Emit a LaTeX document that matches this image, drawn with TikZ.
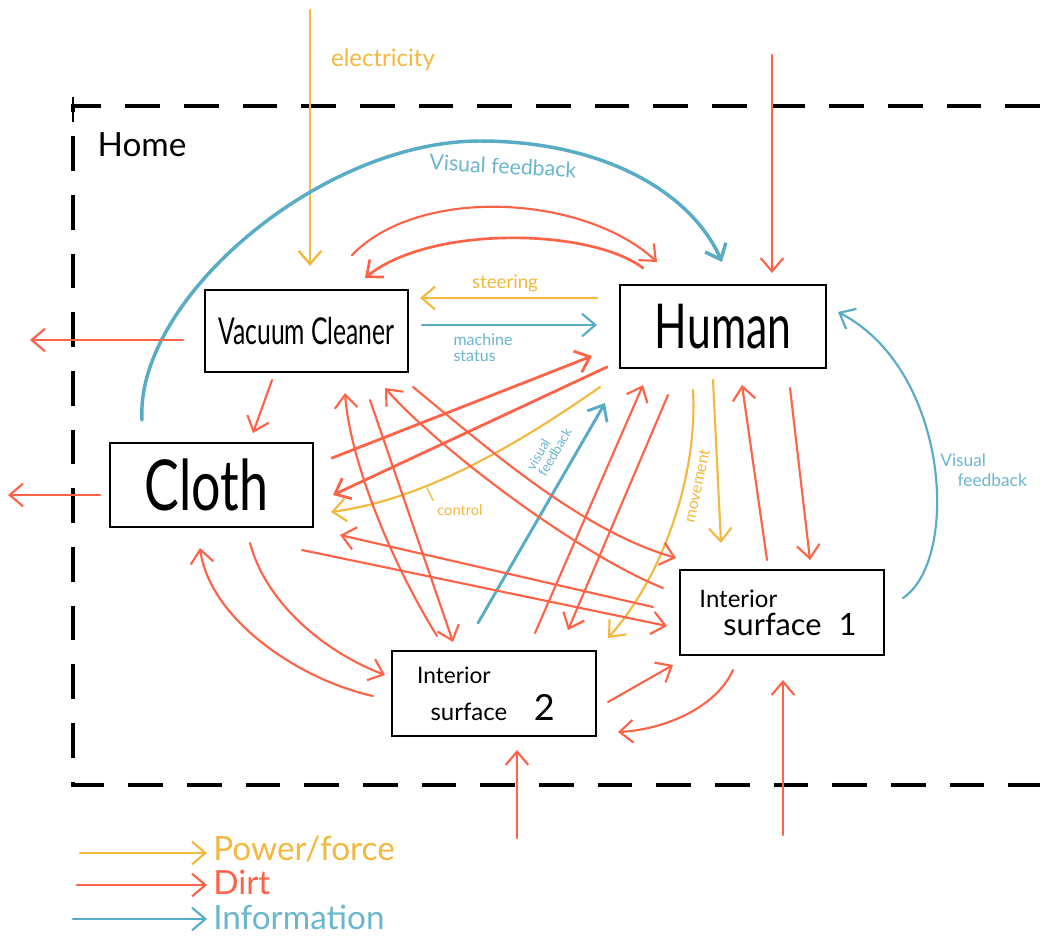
\documentclass[tikz,border=0pt]{standalone}
\usepackage{fontspec}
\setmainfont{Lato}
\usetikzlibrary{arrows.meta,calc}
\definecolor{dirt}{RGB}{255,99,71}
\definecolor{power}{RGB}{243,184,62}
\definecolor{info}{RGB}{88,172,198}
\definecolor{infotext}{RGB}{105,182,206}
\begin{document}
\begin{tikzpicture}[x=0.75pt,y=-0.75pt,
  box/.style={draw=black, line width=2pt, inner sep=0pt, align=center},
  flow/.style={line width=1.6pt, line cap=round, -{Straight Barb[length=10pt,width=17pt]}},
  dirtarrow/.style={flow, draw=dirt},
  powerarrow/.style={flow, draw=power},
  infoarrow/.style={flow, draw=info},
  lbl/.style={inner sep=0pt},
  homeline/.style={line width=2.3pt, dash pattern=on 26pt off 18pt}
]
\useasboundingbox[fill=white] (0,0) rectangle (1040,940);

% home boundary
\draw[homeline] (1040,106) -- (73,106) -- (73,785) -- (1040,785);
\draw[line width=1.4pt] (73,97) -- (73,122);
\node[lbl, font=\fontsize{25}{27}\selectfont] (home) at (142,145) {Home};

% boxes
\node[box, minimum width=152.25pt, minimum height=61.5pt, font=\fontsize{18.5}{20}\selectfont] (vac) at (306.5,331) {\scalebox{1}[1.5]{Vacuum Cleaner}};
\node[box, minimum width=154.5pt, minimum height=62.25pt, font=\fontsize{32}{34}\selectfont] (hum) at (723,326.5) {\scalebox{1}[1.45]{Human}};
\node[box, minimum width=152.25pt, minimum height=63pt, font=\fontsize{39}{40}\selectfont] (clo) at (211.5,485) {\hspace*{-8pt}\scalebox{1}[1.35]{Cloth}};
\node[box, minimum width=153pt, minimum height=63.75pt, align=left, font=\fontsize{23}{21}\selectfont] (s1) at (782,612.5) {{\fontsize{18}{21}\selectfont Interior}\\ \hspace*{18pt}surface\hspace{13pt}1\hspace*{6pt}};
\node[box, minimum width=153pt, minimum height=63.75pt, align=left, font=\fontsize{18}{28}\selectfont] (s2) at (494,693.5) {{\fontsize{17}{28}\selectfont Interior}\\ \hspace*{10pt}surface\hspace{20pt}{\fontsize{27}{28}\selectfont 2}\hspace*{12pt}};

% free ends
\coordinate (elecIn) at (310,10);
\coordinate (dirtInTop) at (772,55);
\coordinate (vacOut) at (30,340);
\coordinate (clothOut) at (8,495);
\coordinate (dirtInS2) at (517,838);
\coordinate (dirtInS1) at (783,835);

% labels
\node[lbl, text=power, font=\fontsize{18}{20}\selectfont] (elecl) at (383,60) {electricity};
\node[lbl, text=power, font=\fontsize{14}{16}\selectfont] (steerl) at (505,283) {steering};
\node[lbl, text=infotext, font=\fontsize{12}{12}\selectfont, align=left] (msl) at (483,348) {machine\\status};
\node[lbl, text=infotext, font=\fontsize{16}{18}\selectfont, rotate=-3] (vf1) at (503,166) {Visual feedback};
\node[lbl, text=power, font=\fontsize{11}{12}\selectfont] (ctrl) at (460,510) {control};
\node[lbl, text=power, font=\fontsize{12}{13}\selectfont, rotate=78] (mov) at (697,486) {movement};
\node[lbl, text=infotext, font=\fontsize{10}{10}\selectfont, rotate=60, align=left] (vf2) at (549,449) {visual\\feedback};
\node[lbl, text=infotext, font=\fontsize{13}{15}\selectfont, align=left, anchor=west] (vf3) at (940,470) {Visual\\ \hspace*{13pt}feedback};

% power / force
\draw[powerarrow, line width=1.8pt] (elecIn) -- ($(vac)+(3.5,-65)$);
\draw[powerarrow] ($(hum)+(-126,-28.5)$) -- ($(vac)+(113.5,-33)$);
\draw[powerarrow] ($(hum)+(-123,60.5)$) .. controls (510,450) and (420,500) .. ($(clo)+(119.5,27)$);
\draw[power, line width=1pt, line cap=round] ($(ctrl.north west)+(-4,-4)$) -- ++(-6,-12);
\draw[powerarrow] ($(hum)+(-30,63.5)$) .. controls (698,480) and (660,580) .. ($(s2)+(114,-55.5)$);
\draw[powerarrow] ($(hum)+(-10,53.5)$) -- ($(s1)+(-61,-69.5)$);

% information
\draw[infoarrow, line width=2.6pt] ($(clo)+(-69.5,-65)$) .. controls (135,300) and (320,141) .. (480,141) .. controls (600,141) and (690,190) .. ($(hum)+(-1,-64.5)$);
\draw[infoarrow] ($(vac)+(115.5,-6)$) -- ($(hum)+(-126,-1.5)$);
\draw[infoarrow, line width=2.2pt] ($(s2)+(-16,-70.5)$) -- ($(hum)+(-118,76.5)$);
\draw[infoarrow] ($(s1)+(121,-14.5)$) .. controls (960,560) and (950,370) .. ($(hum)+(115,-14.5)$);

% dirt
\draw[dirtarrow] (dirtInTop) -- ($(hum)+(49,-53.5)$);
\draw[dirtarrow] ($(vac)+(45.5,-76)$) .. controls (420,185) and (585,195) .. ($(hum)+(-66,-64.5)$);
\draw[dirtarrow, line width=2pt] ($(hum)+(-80,-58.5)$) .. controls (590,228) and (430,225) .. ($(vac)+(58.5,-53)$);
\draw[dirtarrow] ($(vac)+(-123.5,9)$) -- (vacOut);
\draw[dirtarrow] ($(clo)+(-111.5,10)$) -- (clothOut);
\draw[dirtarrow] ($(vac)+(-34.5,49)$) -- ($(clo)+(41.5,-52)$);
\draw[dirtarrow, line width=2.1pt] ($(clo)+(120.5,-27)$) -- ($(hum)+(-131,29.5)$);
\draw[dirtarrow, line width=2.1pt] ($(hum)+(-116,40.5)$) -- ($(clo)+(121.5,10)$);
\draw[dirtarrow] ($(s1)+(-129,-5.5)$) -- ($(clo)+(128.5,50)$);
\draw[dirtarrow] ($(clo)+(90.5,65)$) -- ($(s1)+(-115,13.5)$);
\draw[dirtarrow] ($(vac)+(106.5,56)$) .. controls (490,450) and (580,530) .. ($(s1)+(-106,-54.5)$);
\draw[dirtarrow] ($(s1)+(-119,-24.5)$) .. controls (580,555) and (440,450) .. ($(vac)+(78.5,57)$);
\draw[dirtarrow] ($(s2)+(-57,-57.5)$) .. controls (390,560) and (350,460) .. ($(vac)+(38.5,62)$);
\draw[dirtarrow] ($(vac)+(63.5,69)$) -- ($(s2)+(-41,-51.5)$);
\draw[dirtarrow] ($(s2)+(41,-60.5)$) -- ($(hum)+(-80,58.5)$);
\draw[dirtarrow] ($(hum)+(-55,68.5)$) -- ($(s2)+(74,-63.5)$);
\draw[dirtarrow] ($(s1)+(-15,-52.5)$) -- ($(hum)+(19,58.5)$);
\draw[dirtarrow] ($(hum)+(67,61.5)$) -- ($(s1)+(28,-52.5)$);
\draw[dirtarrow] ($(s2)+(-121,2.5)$) .. controls (300,680) and (210,620) .. ($(clo)+(-11.5,63)$);
\draw[dirtarrow] ($(clo)+(38.5,58)$) .. controls (265,600) and (320,650) .. ($(s2)+(-109,-18.5)$);
\draw[dirtarrow] ($(s2)+(114,8.5)$) -- ($(s1)+(-109,52.5)$);
\draw[dirtarrow] ($(s1)+(-49,57.5)$) .. controls (715,710) and (660,730) .. ($(s2)+(124,38.5)$);
\draw[dirtarrow] (dirtInS2) -- ($(s2)+(23,56.5)$);
\draw[dirtarrow] (dirtInS1) -- ($(s1)+(1,67.5)$);

% legend
\node[lbl, anchor=west, text=power, font=\fontsize{25}{27}\selectfont] (legPow) at (213,849) {Power/force};
\node[lbl, anchor=west, text=dirt, font=\fontsize{25}{27}\selectfont] (legDirt) at (213,882) {Dirt};
\node[lbl, anchor=west, text=infotext, font=\fontsize{25}{27}\selectfont] (legInfo) at (213,917) {Information};
\coordinate (legP) at (80,853);
\coordinate (legD) at (77,885);
\coordinate (legI) at (73,919);
\draw[powerarrow] (legP) -- ($(legPow.west)+(-6,4)$);
\draw[dirtarrow] (legD) -- ($(legDirt.west)+(-6,3)$);
\draw[infoarrow] (legI) -- ($(legInfo.west)+(-6,2)$);
\end{tikzpicture}
\end{document}
